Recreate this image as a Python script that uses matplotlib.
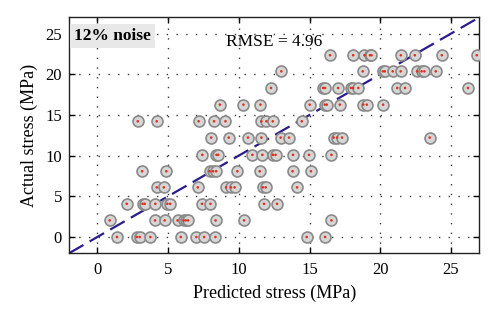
import matplotlib
matplotlib.use("Agg")
import matplotlib.pyplot as plt
import numpy as np

# Data (actual stress levels and predicted values)
actual_levels = [0.0, 2.04, 4.08, 6.1, 8.08, 10.1, 12.22, 14.22, 16.27, 18.32, 20.36, 22.34]

pred_0 = [1.39, 2.8, 3.0, 3.75, 5.9, 7.0, 7.55, 8.35, 14.8, 16.1]
pred_2 = [0.87, 4.08, 4.76, 5.67, 6.1, 6.25, 6.42, 8.36, 10.37, 16.55]
pred_4 = [2.08, 3.2, 3.35, 4.1, 4.95, 5.15, 7.4, 8.0, 11.78, 12.7]
pred_6 = [4.2, 4.7, 7.1, 9.1, 9.45, 9.7, 11.7, 11.9, 14.12]
pred_8 = [3.17, 4.88, 7.94, 8.18, 8.4, 9.9, 11.48, 13.8, 15.1]
pred_10 = [7.42, 8.42, 8.55, 10.96, 11.67, 12.42, 12.6, 13.83, 14.96, 16.55]
pred_12 = [8.05, 9.29, 10.65, 11.6, 12.96, 13.55, 16.7, 16.95, 17.3, 23.5]
pred_14 = [2.86, 4.2, 7.16, 8.25, 9.06, 11.6, 11.95, 12.4, 14.45]
pred_16 = [8.66, 10.33, 11.53, 15.01, 16.08, 16.22, 17.14, 18.8, 19.05, 20.2]
pred_18 = [12.28, 15.96, 16.1, 17.02, 17.92, 18.08, 18.45, 21.2, 21.75, 26.2]
pred_20 = [13.01, 18.76, 20.18, 20.32, 20.88, 21.44, 22.6, 22.92, 23.12, 23.92]
pred_22 = [16.45, 18.08, 18.88, 19.27, 19.38, 21.45, 22.44, 24.35, 26.82]

pred_groups = [pred_0, pred_2, pred_4, pred_6, pred_8, pred_10,
               pred_12, pred_14, pred_16, pred_18, pred_20, pred_22]

predicted = np.concatenate([np.array(g) for g in pred_groups])
actual = np.concatenate([np.full(len(g), lv) for g, lv in zip(pred_groups, actual_levels)])

x_ticks = [0, 5, 10, 15, 20, 25]
y_ticks = [0, 5, 10, 15, 20, 25]
axis_lim = [-2, 27]
rmse_text = "RMSE = 4.96"
noise_text = "12% noise"

plt.rcParams['font.family'] = ['Liberation Serif', 'DejaVu Serif']

fig = plt.figure(figsize=(5.0, 3.22), dpi=100)
ax = fig.add_axes([0.138, 0.2134, 0.8206, 0.7328])

ax.set_xlim(axis_lim)
ax.set_ylim(axis_lim)
ax.set_xticks(x_ticks)
ax.set_yticks(y_ticks)
ax.grid(True, color='#3a3a3a', linestyle=(0, (1, 6)), linewidth=1.0)
ax.set_axisbelow(True)

ax.plot(axis_lim, axis_lim, color='#2a1d8c', linewidth=1.6,
        linestyle=(0, (7.5, 3.2)), zorder=2)

ax.scatter(predicted, actual, s=62, facecolor='#d6d6d6', edgecolor='#8a8a8a',
           linewidth=1.2, zorder=3)
ax.scatter(predicted, actual, s=3.5, facecolor='#e0301e', edgecolor='none', zorder=4)

ax.text(0.5, 0.895, rmse_text, transform=ax.transAxes, ha='center', va='center',
        fontsize=12.5, color='black')
ax.text(0.012, 0.955, noise_text, transform=ax.transAxes, ha='left', va='top',
        fontsize=12.5, fontweight='bold', color='black',
        bbox=dict(boxstyle='square,pad=0.25', facecolor='#e8e8e8', edgecolor='none'))

ax.tick_params(direction='in', top=True, right=True, length=4, width=1,
               labelsize=12, colors='black')
ax.tick_params(axis='x', pad=6)
ax.tick_params(axis='y', pad=5)
for sp in ax.spines.values():
    sp.set_linewidth(1.0)
    sp.set_color('#222222')

ax.set_xlabel("Predicted stress (MPa)", fontsize=13, labelpad=5)
ax.set_ylabel("Actual stress (MPa)", fontsize=13, labelpad=5)

fig.savefig("out.png", dpi=100)
